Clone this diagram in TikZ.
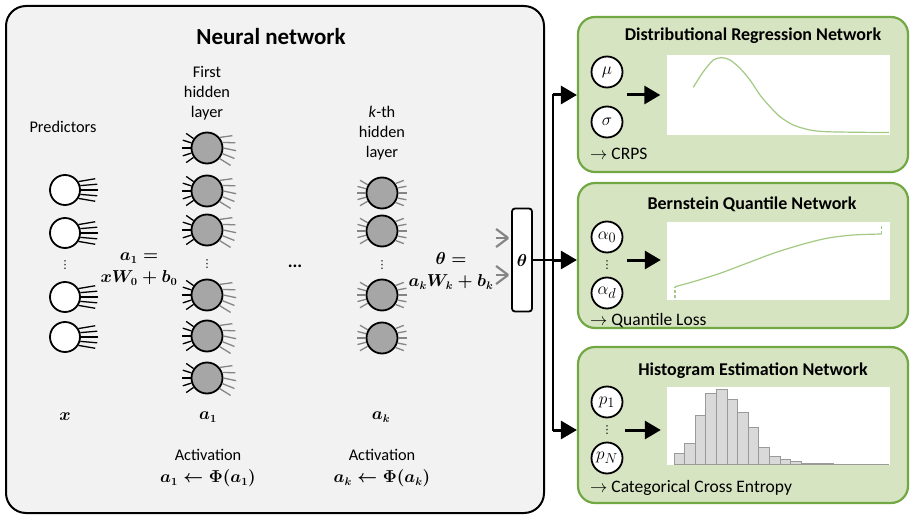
\documentclass[tikz,border=0pt]{standalone}
\usepackage{amsmath}
\usepackage{fontspec}
\setmainfont{Carlito}
\newfontfamily\dotsfont{DejaVu Sans}
\usepackage{tikz}
\usetikzlibrary{arrows.meta,calc}

\definecolor{boxgray}{HTML}{F2F2F2}
\definecolor{nodegray}{HTML}{A6A6A6}
\definecolor{fangray}{HTML}{858585}
\definecolor{greenfill}{HTML}{D7E4C2}
\definecolor{greenline}{HTML}{72A843}
\definecolor{curvegreen}{HTML}{A3C982}
\definecolor{barfill}{HTML}{D9D9D9}
\definecolor{bargray}{HTML}{9A9A9A}

\begin{document}
\begin{tikzpicture}[x=1pt, y=-1pt,
inp/.style={circle, draw=black, fill=white, line width=1.8pt, minimum size=30pt, inner sep=0pt},
hid/.style={circle, draw=black, fill=nodegray, line width=1.8pt, minimum size=31pt, inner sep=0pt},
outp/.style={circle, draw=black, fill=white, line width=1.8pt, minimum size=31pt, inner sep=0pt, font=\fontsize{19}{20}\selectfont},
lbl/.style={font=\fontsize{16.3}{20}\selectfont, align=center, inner sep=0pt},
act/.style={font=\fontsize{16.3}{22}\selectfont\boldmath, align=center, inner sep=0pt},
eqn/.style={font=\fontsize{16}{22}\selectfont\boldmath, align=center, inner sep=0pt},
vdot/.style={font=\dotsfont\fontsize{11}{11}\selectfont, inner sep=0pt},
head/.style={font=\fontsize{18}{20}\selectfont\bfseries, inner sep=0pt},
loss/.style={font=\fontsize{17.5}{20}\selectfont, anchor=west, inner sep=0pt},
netbox/.style={draw=greenline, fill=greenfill, line width=2.2pt, rounded corners=17pt, minimum width=330pt, inner sep=0pt},
plotbox/.style={fill=white, minimum width=223pt, inner sep=0pt},
fanblk/.style={black, line width=1.3pt},
fangry/.style={fangray, line width=1.3pt},
conn/.style={line width=2.4pt, line cap=rect},
bigarrow/.style={-{Triangle[length=16pt,width=18pt]}, line width=3pt},
curve/.style={curvegreen, line width=1.2pt},
histbar/.style={draw=bargray, fill=barfill, line width=0.8pt}
]
\useasboundingbox (0,0) rectangle (910,516);

%Neural network box
\draw[line width=2pt, fill=boxgray, rounded corners=20pt] (6,6) rectangle (544,513);
\node[font=\fontsize{23}{26}\selectfont\bfseries] (nntitle) at (271,37) {Neural network};

%Labels
\node[lbl]      (predlbl)   at (63,127)    {Predictors};
\node[lbl]      (firstlbl)  at (207,93)    {First\\hidden\\layer};
\node[lbl]      (klbl)      at (382,133)   {\textit{k}-th\\hidden\\layer};

%Nodes
\node[inp]      (x1)        at (65,190)    {};
\node[inp]      (x2)        at (65,233)    {};
\node[vdot]     (xdots)     at (65,265)    {⋮};
\node[inp]      (x3)        at (65,297)    {};
\node[inp]      (x4)        at (65,337)    {};

\node[hid]      (h1a)       at (207,148)   {};
\node[hid]      (h1b)       at (207,191)   {};
\node[hid]      (h1c)       at (207,230)   {};
\node[vdot]     (h1dots)    at (207,264)   {⋮};
\node[hid]      (h1d)       at (207,295)   {};
\node[hid]      (h1e)       at (207,336)   {};
\node[hid]      (h1f)       at (207,378)   {};

\node[font=\fontsize{18}{20}\selectfont\bfseries] (dots) at (295,266) {...};

\node[hid]      (hka)       at (382,193)   {};
\node[hid]      (hkb)       at (382,231)   {};
\node[vdot]     (hkdots)    at (382,265)   {⋮};
\node[hid]      (hkc)       at (382,295)   {};
\node[hid]      (hkd)       at (382,338)   {};

%Fans
\foreach \n in {x1,x2,x3,x4}
  \foreach \a in {-32,-16,0,16,32}
    \draw[fanblk] (\n.\a) -- ++(\a*0.3:17pt);
\foreach \n in {h1a,h1b,h1c,h1d,h1e,h1f} {
  \foreach \a in {145,162,180,198,215}
    \draw[fanblk] (\n.\a) -- ++(\a:9pt);
  \foreach \a in {-40,-20,0,20,40}
    \draw[fangry] (\n.\a) -- ++(\a*0.5-12:13pt);
}
\foreach \n in {hka,hkb,hkc,hkd} {
  \foreach \a in {150,165,180,195,210}
    \draw[fangry] (\n.\a) -- ++(\a:9pt);
  \foreach \a in {-35,-18,0,18,35}
    \draw[fangry] (\n.\a) -- ++(\a*0.6:9pt);
}

%Equations
\node[eqn]      (eqa)       at (139,269)   {$a_1 =$\\$xW_0 + b_0$};
\node[eqn]      (eqtheta)   at (451,271)   {$\theta =$\\$a_kW_k + b_k$};
\node[eqn]      (xlbl)      at (65,417)    {$x$};
\node[eqn]      (a1lbl)     at (208,417)   {$a_1$};
\node[eqn]      (aklbl)     at (381,417)   {$a_k$};
\node[act]      (act1)      at (208,468)   {Activation\\$a_1 \leftarrow \Phi(a_1)$};
\node[act]      (actk)      at (382,468)   {Activation\\$a_k \leftarrow \Phi(a_k)$};

%Output layer
\node[draw, fill=white, line width=1.8pt, rounded corners=3pt, minimum width=20pt, minimum height=103pt,
      inner sep=0pt, font=\fontsize{16}{18}\selectfont\boldmath] (thetabox) at (522,260) {$\theta$};
\foreach \dy in {-22,15}
  \foreach \s in {-9,0,9}
    \draw[fangry, line width=2.2pt] ($(thetabox.west)+(-15,\dy+\s)$) -- ($(thetabox.west)+(-3,\dy)$);

%Heads
\node[netbox, minimum height=155pt] (drn) at (743,94.5)  {};
\node[netbox, minimum height=145pt] (bqn) at (743,255.5) {};
\node[netbox, minimum height=156pt] (hen) at (743,425)   {};

\node[head]     (drtitle)   at (753,36)    {Distributional Regression Network};
\node[head]     (bqtitle)   at (752,204)   {Bernstein Quantile Network};
\node[head]     (hetitle)   at (753,371)   {Histogram Estimation Network};

\node[plotbox, minimum height=80pt] (drplot) at (778,95)    {};
\node[plotbox, minimum height=78pt] (bqplot) at (778.5,261) {};
\node[plotbox, minimum height=78pt] (heplot) at (778.5,426) {};

\node[outp, font=\fontsize{17}{18}\selectfont] (mu)    at (607,72)  {$\mu$};
\node[outp, font=\fontsize{17}{18}\selectfont] (sigma) at (607,122) {$\sigma$};
\node[outp]     (alpha0)    at (607,237)   {$\alpha_0$};
\node[vdot]     (alphadots) at (607,265)   {⋮};
\node[outp]     (alphad)    at (607,293)   {$\alpha_d$};
\node[outp]     (p1)        at (607,402)   {$p_1$};
\node[vdot]     (pdots)     at (607,430)   {⋮};
\node[outp]     (pN)        at (607,458)   {$p_N$};

\node[loss]     (drloss)    at (590,154)   {$\rightarrow$ CRPS};
\node[loss]     (bqloss)    at (590,321)   {$\rightarrow$ Quantile Loss};
\node[loss]     (heloss)    at (590,488)   {$\rightarrow$ Categorical Cross Entropy};

%Plots
\draw[curve] plot[smooth] coordinates {(693.3,87.3) (703.3,71.7) (713.3,60) (721.7,57.7) (730,60) (740,68.3)
  (750,80) (760,95) (770,106.7) (780,116.7) (793.3,125) (810,130) (826.7,131.7) (860,132.3) (889,132.5)};

\draw[curve, dash pattern=on 3pt off 2pt] (675,298.3) -- (675,286.7);
\draw[curve] plot[smooth] coordinates {(675,286.7) (693.3,281.7) (720,273.3) (746.7,263.3) (773.3,253.3)
  (800,245) (826.7,238.3) (853.3,235) (881.7,234)};
\draw[curve, dash pattern=on 3pt off 2pt] (881.7,234) -- (881.7,224);

\draw[bargray, line width=0.8pt] (674,464.5) -- (889,464.5);
\foreach \h [count=\i from 0] in {10.7,21.3,48.7,71.3,75.3,65.3,52,37.3,17.3,8,4.7,2.7,1.3,1,0.7}
  \draw[histbar] (674+\i*10.6,464.5) rectangle ++(10.6,-\h);

%Lines
\coordinate (jn)   at (553,260);
\coordinate (jtop) at (553,95);
\coordinate (jbot) at (553,430);
\draw[conn] (thetabox.east) -- (jn);
\draw[conn] (jtop) -- (jbot);
\draw[bigarrow] (jtop) -- (drn.west |- jtop);
\draw[bigarrow] (jn)   -- (bqn.west |- jn);
\draw[bigarrow] (jbot) -- (hen.west |- jbot);

\coordinate (drfrom) at (627,95);
\coordinate (bqfrom) at (627,260);
\coordinate (hefrom) at (625,430);
\draw[bigarrow, shorten >=6pt] (drfrom) -- (drplot.west);
\draw[bigarrow, shorten >=6pt] (bqfrom) -- (bqplot.west |- bqfrom);
\draw[bigarrow, shorten >=6pt] (hefrom) -- (heplot.west |- hefrom);
\end{tikzpicture}
\end{document}
